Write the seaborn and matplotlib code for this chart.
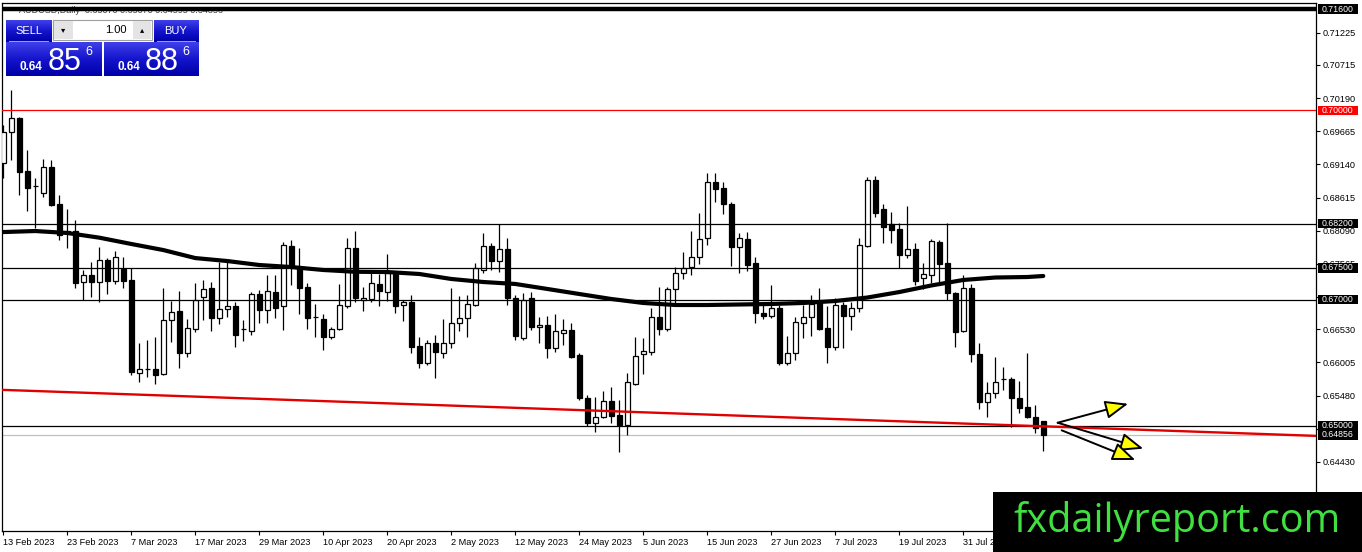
import numpy as np
import matplotlib
matplotlib.use("Agg")
import matplotlib.pyplot as plt
import seaborn as sns
from matplotlib.patches import Rectangle
from matplotlib.transforms import blended_transform_factory
from matplotlib.colors import LinearSegmentedColormap

# ---------------- data (AUDUSD daily) ----------------
opens = [0.69162, 0.69652, 0.69874, 0.69035, 0.68798, 0.68687, 0.69098, 0.68513, 0.68054, 0.68085,
         0.67278, 0.67389, 0.67278, 0.67626, 0.67294, 0.67484, 0.67310, 0.65838, 0.65901, 0.65901,
         0.65822, 0.66676, 0.66819, 0.66155, 0.66534, 0.67040, 0.67183, 0.66708, 0.66851, 0.66898,
         0.66534, 0.66502, 0.67088, 0.66835, 0.67119, 0.66898, 0.67848, 0.67515, 0.67199, 0.66724,
         0.66693, 0.66407, 0.66534, 0.66898, 0.67816, 0.66993, 0.67009, 0.67247, 0.67119, 0.67436,
         0.66914, 0.66961, 0.66265, 0.65996, 0.66313, 0.66155, 0.66313, 0.66629, 0.66708, 0.66914,
         0.67468, 0.67848, 0.67610, 0.67800, 0.67024, 0.66392, 0.67024, 0.66565, 0.66597, 0.66233,
         0.66471, 0.66518, 0.66123, 0.65442, 0.65046, 0.65141, 0.65394, 0.65173, 0.65014, 0.65664,
         0.66139, 0.66170, 0.66724, 0.66534, 0.67168, 0.67421, 0.67515, 0.67673, 0.67974, 0.68861,
         0.68766, 0.68513, 0.67832, 0.67959, 0.67578, 0.66788, 0.66740, 0.66866, 0.65996, 0.66155,
         0.66629, 0.66724, 0.66946, 0.66549, 0.66249, 0.66914, 0.66740, 0.66866, 0.67848, 0.68893,
         0.68434, 0.68196, 0.68117, 0.67705, 0.67800, 0.67341, 0.67389, 0.67911, 0.67578, 0.67104,
         0.66502, 0.67183, 0.66139, 0.65378, 0.65521, 0.65743, 0.65743, 0.65442, 0.65299, 0.65141,
         0.65070]
highs = [0.69763, 0.70317, 0.69890, 0.69367, 0.68924, 0.69225, 0.69209, 0.68655, 0.68434, 0.68259,
         0.67468, 0.67594, 0.67832, 0.67657, 0.67768, 0.67673, 0.67499, 0.66313, 0.66360, 0.66407,
         0.67183, 0.66977, 0.67135, 0.66693, 0.67263, 0.67310, 0.67278, 0.67594, 0.67594, 0.66961,
         0.66676, 0.67119, 0.67151, 0.67389, 0.67389, 0.67911, 0.67943, 0.67816, 0.67263, 0.66930,
         0.66772, 0.66565, 0.67247, 0.67974, 0.68085, 0.67199, 0.67468, 0.67405, 0.67721, 0.67452,
         0.66993, 0.67072, 0.66407, 0.66360, 0.66439, 0.66693, 0.67183, 0.67056, 0.67072, 0.67578,
         0.68054, 0.67896, 0.68196, 0.67974, 0.67072, 0.67104, 0.67119, 0.66724, 0.66740, 0.66772,
         0.66693, 0.66629, 0.66155, 0.65489, 0.65458, 0.65552, 0.65616, 0.65410, 0.65838, 0.66407,
         0.66392, 0.66866, 0.67199, 0.67199, 0.67515, 0.67752, 0.68085, 0.68371, 0.69004, 0.69004,
         0.68861, 0.68545, 0.68054, 0.68069, 0.67673, 0.66961, 0.67231, 0.66914, 0.66423, 0.66724,
         0.66914, 0.67072, 0.67183, 0.66898, 0.67024, 0.66961, 0.66961, 0.67974, 0.68940, 0.68956,
         0.68513, 0.68386, 0.68212, 0.68481, 0.67896, 0.67578, 0.67959, 0.67943, 0.68212, 0.67119,
         0.67389, 0.67247, 0.66313, 0.65695, 0.66091, 0.65932, 0.65774, 0.65711, 0.66155, 0.65331,
         0.65070]
lows = [0.68924, 0.69209, 0.68655, 0.68402, 0.68132, 0.68623, 0.68481, 0.67943, 0.67816, 0.67183,
        0.66993, 0.67040, 0.66961, 0.67088, 0.67247, 0.67183, 0.65806, 0.65695, 0.65774, 0.65664,
        0.65806, 0.66328, 0.65916, 0.66091, 0.66486, 0.66676, 0.66502, 0.66613, 0.66724, 0.66249,
        0.66344, 0.66439, 0.66629, 0.66629, 0.66708, 0.66518, 0.67231, 0.66772, 0.66534, 0.66407,
        0.66202, 0.66376, 0.66518, 0.66866, 0.66961, 0.66819, 0.66961, 0.66898, 0.66977, 0.66788,
        0.66660, 0.66155, 0.65916, 0.65964, 0.65758, 0.66075, 0.66233, 0.66502, 0.66407, 0.66898,
        0.67421, 0.67468, 0.67436, 0.66914, 0.66360, 0.66360, 0.66518, 0.66313, 0.66075, 0.66170,
        0.66281, 0.66075, 0.65410, 0.64998, 0.64903, 0.65125, 0.65046, 0.64587, 0.64856, 0.65648,
        0.65822, 0.66123, 0.66439, 0.66502, 0.66946, 0.67326, 0.67389, 0.67563, 0.67864, 0.68545,
        0.68355, 0.67531, 0.67421, 0.67452, 0.66629, 0.66693, 0.66708, 0.65964, 0.65964, 0.66043,
        0.66392, 0.66423, 0.66518, 0.65996, 0.66202, 0.66233, 0.66518, 0.66803, 0.67832, 0.68307,
        0.67896, 0.67896, 0.67499, 0.67657, 0.67231, 0.67168, 0.67263, 0.67278, 0.66993, 0.66249,
        0.66486, 0.66012, 0.65268, 0.65141, 0.65442, 0.65568, 0.64982, 0.65205, 0.65125, 0.64887,
        0.64595]
closes = [0.69652, 0.69874, 0.69019, 0.68766, 0.68790, 0.69098, 0.68497, 0.68022, 0.68085, 0.67263,
          0.67389, 0.67278, 0.67626, 0.67294, 0.67673, 0.67294, 0.65853, 0.65901, 0.65895, 0.65806,
          0.66676, 0.66803, 0.66155, 0.66549, 0.66993, 0.67168, 0.66708, 0.66851, 0.66898, 0.66439,
          0.66528, 0.67088, 0.66835, 0.67135, 0.66866, 0.67864, 0.67515, 0.67183, 0.66708, 0.66718,
          0.66407, 0.66534, 0.66914, 0.67816, 0.67024, 0.67024, 0.67263, 0.67135, 0.67421, 0.66898,
          0.66961, 0.66249, 0.65996, 0.66313, 0.66170, 0.66313, 0.66629, 0.66708, 0.66930, 0.67499,
          0.67848, 0.67610, 0.67800, 0.67024, 0.66423, 0.66993, 0.66565, 0.66597, 0.66233, 0.66502,
          0.66518, 0.66091, 0.65442, 0.65046, 0.65141, 0.65394, 0.65157, 0.65014, 0.65695, 0.66107,
          0.66186, 0.66724, 0.66534, 0.67168, 0.67421, 0.67499, 0.67673, 0.67959, 0.68861, 0.68750,
          0.68513, 0.67832, 0.67974, 0.67547, 0.66788, 0.66740, 0.66866, 0.65996, 0.66155, 0.66645,
          0.66724, 0.66930, 0.66534, 0.66249, 0.66914, 0.66740, 0.66866, 0.67864, 0.68893, 0.68371,
          0.68148, 0.68101, 0.67705, 0.67800, 0.67294, 0.67405, 0.67927, 0.67563, 0.67104, 0.66486,
          0.67183, 0.66139, 0.65378, 0.65521, 0.65695, 0.65737, 0.65442, 0.65284, 0.65141, 0.64967,
          0.64856]

# moving average (read every 4 bars)
ma_index = [0, 4, 8, 12, 16, 20, 24, 28, 32, 36, 40, 44, 48, 52, 56, 60, 64, 68, 72, 76, 80,
            84, 88, 92, 96, 100, 104, 108, 112, 116, 120, 124, 128, 130]
ma_values = [0.68069, 0.68085, 0.68054, 0.67980, 0.67880, 0.67784, 0.67657, 0.67610, 0.67547,
             0.67515, 0.67468, 0.67440, 0.67436, 0.67405, 0.67326, 0.67278, 0.67247, 0.67168,
             0.67088, 0.67009, 0.66946, 0.66914, 0.66914, 0.66922, 0.66930, 0.66946, 0.66977,
             0.67032, 0.67119, 0.67223, 0.67310, 0.67349, 0.67357, 0.67373]

date_labels = ["13 Feb 2023", "23 Feb 2023", "7 Mar 2023", "17 Mar 2023", "29 Mar 2023",
               "10 Apr 2023", "20 Apr 2023", "2 May 2023", "12 May 2023", "24 May 2023",
               "5 Jun 2023", "15 Jun 2023", "27 Jun 2023", "7 Jul 2023", "19 Jul 2023",
               "31 Jul 2023"]
date_positions = [0, 8, 16, 24, 32, 40, 48, 56, 64, 72, 80, 88, 96, 104, 112, 120]

y_ticks = [0.71225, 0.70715, 0.70190, 0.69665, 0.69140, 0.68615, 0.68090, 0.67565,
           0.67040, 0.66530, 0.66005, 0.65480, 0.64955, 0.64430]
hidden_ticks = [0.67040, 0.64955]   # covered by level boxes in the reference

black_levels = [0.682, 0.675, 0.670, 0.650]
thick_level = 0.716
red_level = 0.700
bid_level = 0.64856
trend_points = [(0, 0.6557), (160, 0.6486)]
arrow_list = [((131.8, 0.6505), (140.6, 0.6535)),
              ((131.8, 0.6505), (142.5, 0.6464)),
              ((132.3, 0.6493), (141.5, 0.6446))]

sell_price = ("0.64", "85", "6")
buy_price = ("0.64", "88", "6")
header = "AUDUSD,Daily  0.65070 0.65070 0.64595 0.64856"

# ---------------- figure ----------------
sns.set_theme(style="white")
plt.rcParams["font.family"] = ["Liberation Sans", "DejaVu Sans"]

W, H = 1362, 552
fig = plt.figure(figsize=(W / 100, H / 100), dpi=100, facecolor="white")
ax = fig.add_axes([2 / W, (H - 531) / H, (1316 - 2) / W, (531 - 3) / H])
ax.set_facecolor("white")
ax.set_xlim(-0.16, 164.09)
ax.set_ylim(0.63336, 0.71695)

for sp in ax.spines.values():
    sp.set_color("black")
    sp.set_linewidth(0.9)
    sp.set_visible(True)

# candles
idx = np.arange(len(opens))
o = np.array(opens); c = np.array(closes); hi = np.array(highs); lo = np.array(lows)
up = c >= o
ax.vlines(idx, lo, hi, color="black", lw=0.9, zorder=4)
ax.bar(idx[up], np.maximum(c - o, 0.00003)[up], bottom=o[up], width=0.6,
       color="white", edgecolor="black", linewidth=0.9, zorder=5)
ax.bar(idx[~up], (o - c)[~up], bottom=c[~up], width=0.6,
       color="black", edgecolor="black", linewidth=0.9, zorder=5)

# levels
ax.axhline(thick_level, color="black", lw=3.2, zorder=6)
ax.axhline(red_level, color="#ff0000", lw=0.9, zorder=6)
for lv in black_levels:
    ax.axhline(lv, color="black", lw=0.9, zorder=6)
ax.axhline(bid_level, color="#c0c0c0", lw=0.9, zorder=2)
ax.axline(trend_points[0], trend_points[1], color="#e00000", lw=1.7, zorder=6)

# moving average
sns.lineplot(x=ma_index, y=ma_values, ax=ax, color="black", lw=3.0, zorder=7)

# arrows
for start, tip in arrow_list:
    ax.annotate("", xy=tip, xytext=start,
                arrowprops=dict(arrowstyle="-|>,head_length=0.7,head_width=0.28",
                                fc="#ffff00", ec="black", lw=1.4, mutation_scale=20,
                                shrinkA=0, shrinkB=0), zorder=8)

# axes ticks
ax.yaxis.tick_right()
ax.set_yticks(y_ticks)
ax.set_yticklabels(["" if v in hidden_ticks else f"{v:.5f}" for v in y_ticks])
ax.tick_params(axis="y", direction="out", length=3, width=0.8, pad=2,
               labelsize=6.6, colors="black", right=True, left=False)
ax.set_xticks(date_positions)
ax.set_xticklabels(date_labels)
ax.tick_params(axis="x", direction="out", length=3, width=0.8, pad=2,
               labelsize=6.6, colors="black", bottom=True)
for lbl in ax.get_xticklabels():
    lbl.set_ha("left")
ax.set_xlabel(""); ax.set_ylabel("")

# price label boxes
bt = blended_transform_factory(ax.transAxes, ax.transData)
box_levels = [(thick_level, "black"), (0.682, "black"), (0.675, "black"), (0.670, "black"),
              (0.650, "black"), (bid_level, "black"), (red_level, "#ff0000")]
for lv, col in box_levels:
    ax.add_patch(Rectangle((1.0015, lv - 0.00072), 0.0305, 0.00144, transform=bt,
                           facecolor=col, edgecolor="none", clip_on=False, zorder=9))
    ax.text(1.0040, lv, f"{lv:.5f}", transform=bt, color="white", fontsize=6.3,
            va="center", ha="left", clip_on=False, zorder=10)

# header text (under the thick line)
ax.text(19 / W, 1 - 13 / H, header, transform=fig.transFigure, fontsize=6.5,
        color="#404040", zorder=1, va="baseline", ha="left")
ax.add_patch(Rectangle((5 / W, 1 - 11 / H), 7 / W, 2 / H, transform=fig.transFigure,
                       facecolor="#404040", edgecolor="none", zorder=1, clip_on=False))


# ---------------- trading panel ----------------
def frect(x, y, w, h, **kw):
    fig.add_artist(Rectangle((x / W, 1 - (y + h) / H), w / W, h / H,
                             transform=fig.transFigure, **kw))


def ftext(x, y, s, **kw):
    fig.text(x / W, 1 - y / H, s, **kw)


blue_cmap = LinearSegmentedColormap.from_list("mtblue", ["#4040ea", "#1414cc", "#0000a8"])
grad = np.linspace(0, 1, 64).reshape(-1, 1)


def gradient_box(x, y, w, h):
    gax = fig.add_axes([x / W, 1 - (y + h) / H, w / W, h / H], zorder=20)
    gax.imshow(grad, aspect="auto", cmap=blue_cmap, extent=(0, 1, 0, 1))
    gax.set_axis_off()


gradient_box(6, 20, 46, 22)
gradient_box(154, 20, 45, 22)
gradient_box(6, 42, 95, 34)
gradient_box(104, 42, 95, 34)
frect(9, 41, 40, 0.8, facecolor="#9a9aee", edgecolor="none", zorder=21)
frect(157, 41, 39, 0.8, facecolor="#9a9aee", edgecolor="none", zorder=21)
frect(53, 20, 99, 20, facecolor="white", edgecolor="#a0a0a0", linewidth=0.8, zorder=21)
frect(54, 21, 19, 18, facecolor="#e4e4e4", edgecolor="none", zorder=21)
frect(133, 21, 18, 18, facecolor="#e4e4e4", edgecolor="none", zorder=21)

ftext(29, 31, "SELL", color="white", fontsize=8, ha="center", va="center", zorder=22)
ftext(176, 31, "BUY", color="white", fontsize=8, ha="center", va="center", zorder=22)
ftext(127, 30, "1.00", color="black", fontsize=8, ha="right", va="center", zorder=22)
ftext(63, 30, "▾", color="black", fontsize=6, ha="center", va="center", zorder=22,
      family=["DejaVu Sans"])
ftext(142, 30, "▴", color="black", fontsize=6, ha="center", va="center", zorder=22,
      family=["DejaVu Sans"])

for px, (small, big, sup) in [(20, sell_price), (117, buy_price)]:
    ftext(px, 70, small, color="white", fontsize=8.5, fontweight="bold", ha="left",
          va="baseline", zorder=22)
    ftext(px + 28, 70, big, color="white", fontsize=22, ha="left", va="baseline", zorder=22)
    ftext(px + 65, 55, sup, color="white", fontsize=9, ha="left", va="baseline", zorder=22)

# ---------------- watermark ----------------
frect(993, 492, 369, 60, facecolor="black", edgecolor="none", zorder=30)
ftext(1177, 521, "fxdailyreport.com", color="#40e040", fontsize=28.5, ha="center",
      va="center", zorder=31, family=["Open Sans", "DejaVu Sans"])

fig.savefig("out.png", dpi=100, facecolor="white")
